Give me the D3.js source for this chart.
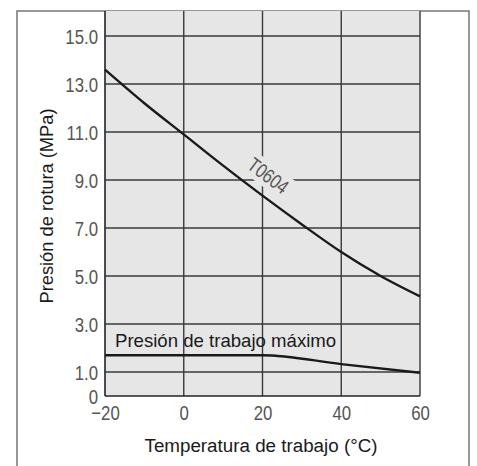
<!DOCTYPE html>
<html>
<head>
<meta charset="utf-8">
<script src="https://cdn.jsdelivr.net/npm/d3@7"></script>
<style>
  html, body { margin: 0; padding: 0; background: #fff; }
  svg { display: block; }
</style>
</head>
<body>
<svg id="chart" width="477" height="466"></svg>
<script>
// ---- data ----
const temps = [-20, -10, 0, 10, 20, 30, 40, 50, 60];
const burstPressure = [13.6, 12.2, 10.9, 9.6, 8.35, 7.15, 6.0, 5.0, 4.15];
const workTemps = [-20, 0, 20, 40, 60];
const workPressure = [1.7, 1.7, 1.7, 1.33, 0.97];
const xTicks = [-20, 0, 20, 40, 60];
const xTickLabels = ["\u221220", "0", "20", "40", "60"];
const yTicks = [0, 1, 3, 5, 7, 9, 11, 13, 15];
const yTickLabels = ["0", "1.0", "3.0", "5.0", "7.0", "9.0", "11.0", "13.0", "15.0"];
const seriesLabel = "T0604";
const workLabel = "Presión de trabajo máximo";
const xTitle = "Temperatura de trabajo (°C)";
const yTitle = "Presión de rotura (MPa)";

const svg = d3.select("#chart");
const W = 477, H = 466;
const L = 105, R = 420, T = 11, B = 396;

const x = d3.scaleLinear().domain([-20, 60]).range([L, R]);
const y = d3.scaleLinear().domain([0, 16]).range([B, 12]);

const tickFont = "'Liberation Sans', Arial, Helvetica, sans-serif";
const textFont = "'Liberation Sans', Arial, Helvetica, sans-serif";
const squeeze = 0.8;

// outer frame
svg.append("path")
  .attr("d", `M17,${H + 2} L17,11 L469,11 L469,${H + 2}`)
  .attr("fill", "none").attr("stroke", "#777").attr("stroke-width", 1.5);

// plot background
svg.append("rect")
  .attr("x", L).attr("y", T).attr("width", R - L).attr("height", B - T)
  .attr("fill", "#e6e6e6");

// gridlines
const gridColor = "#3a3a3a";
svg.append("g").selectAll("line")
  .data(yTicks.filter(d => d > 0))
  .join("line")
  .attr("x1", L).attr("x2", R)
  .attr("y1", d => y(d)).attr("y2", d => y(d))
  .attr("stroke", gridColor).attr("stroke-width", 1.4);

svg.append("g").selectAll("line")
  .data(xTicks.filter(d => d > -20))
  .join("line")
  .attr("x1", d => x(d)).attr("x2", d => x(d))
  .attr("y1", T).attr("y2", B)
  .attr("stroke", gridColor).attr("stroke-width", 1.4);

// axes lines
svg.append("line").attr("x1", L).attr("x2", L).attr("y1", T).attr("y2", B)
  .attr("stroke", "#222").attr("stroke-width", 1.6);
svg.append("line").attr("x1", L).attr("x2", R).attr("y1", B).attr("y2", B)
  .attr("stroke", "#222").attr("stroke-width", 1.6);

// tick labels via axes (condensed look via horizontal squeeze)
const yAxis = d3.axisLeft(y).tickValues(yTicks)
  .tickFormat((d, i) => yTickLabels[i]).tickSize(0).tickPadding(7);
const gy = svg.append("g").attr("transform", `translate(${L},0)`).call(yAxis);
gy.select(".domain").remove();
gy.selectAll("text")
  .attr("font-family", tickFont).attr("font-size", 21)
  .attr("fill", "#555").attr("dy", "0.36em")
  .attr("x", -7 / squeeze)
  .attr("transform", `scale(${squeeze},1)`);

const xAxis = d3.axisBottom(x).tickValues(xTicks)
  .tickFormat((d, i) => xTickLabels[i]).tickSize(0).tickPadding(9);
const gx = svg.append("g").attr("transform", `translate(0,${B})`).call(xAxis);
gx.select(".domain").remove();
gx.selectAll("text")
  .attr("font-family", tickFont).attr("font-size", 21)
  .attr("fill", "#555")
  .attr("transform", `scale(${squeeze},1)`);

// curves
const line = d3.line().x(d => x(d[0])).y(d => y(d[1])).curve(d3.curveMonotoneX);
svg.append("path")
  .datum(temps.map((t, i) => [t, burstPressure[i]]))
  .attr("d", line)
  .attr("fill", "none").attr("stroke", "#1a1a1a").attr("stroke-width", 2.4);

svg.append("path")
  .datum(workTemps.map((t, i) => [t, workPressure[i]]))
  .attr("d", line)
  .attr("fill", "none").attr("stroke", "#1a1a1a").attr("stroke-width", 2.4);

// T0604 label (rotated, with background halo)
const lx = x(21.4), ly = y(9.17);
svg.append("text")
  .attr("transform", `translate(${lx},${ly}) rotate(37) scale(${squeeze},1)`)
  .attr("text-anchor", "middle").attr("dominant-baseline", "central")
  .attr("font-family", tickFont).attr("font-size", 20)
  .attr("fill", "#555")
  .attr("stroke", "#e6e6e6").attr("stroke-width", 10)
  .attr("paint-order", "stroke")
  .text(seriesLabel);

// working-pressure label
svg.append("text")
  .attr("x", x(-17.46)).attr("y", y(2.04))
  .attr("font-family", textFont).attr("font-size", 18.6)
  .attr("fill", "#1a1a1a")
  .text(workLabel);

// axis titles
svg.append("text")
  .attr("x", 261).attr("y", 452)
  .attr("text-anchor", "middle")
  .attr("font-family", textFont).attr("font-size", 18.8)
  .attr("fill", "#1a1a1a")
  .text(xTitle);

svg.append("text")
  .attr("transform", `translate(53,206) rotate(-90)`)
  .attr("text-anchor", "middle")
  .attr("font-family", textFont).attr("font-size", 18.3)
  .attr("fill", "#1a1a1a")
  .text(yTitle);
</script>
</body>
</html>
